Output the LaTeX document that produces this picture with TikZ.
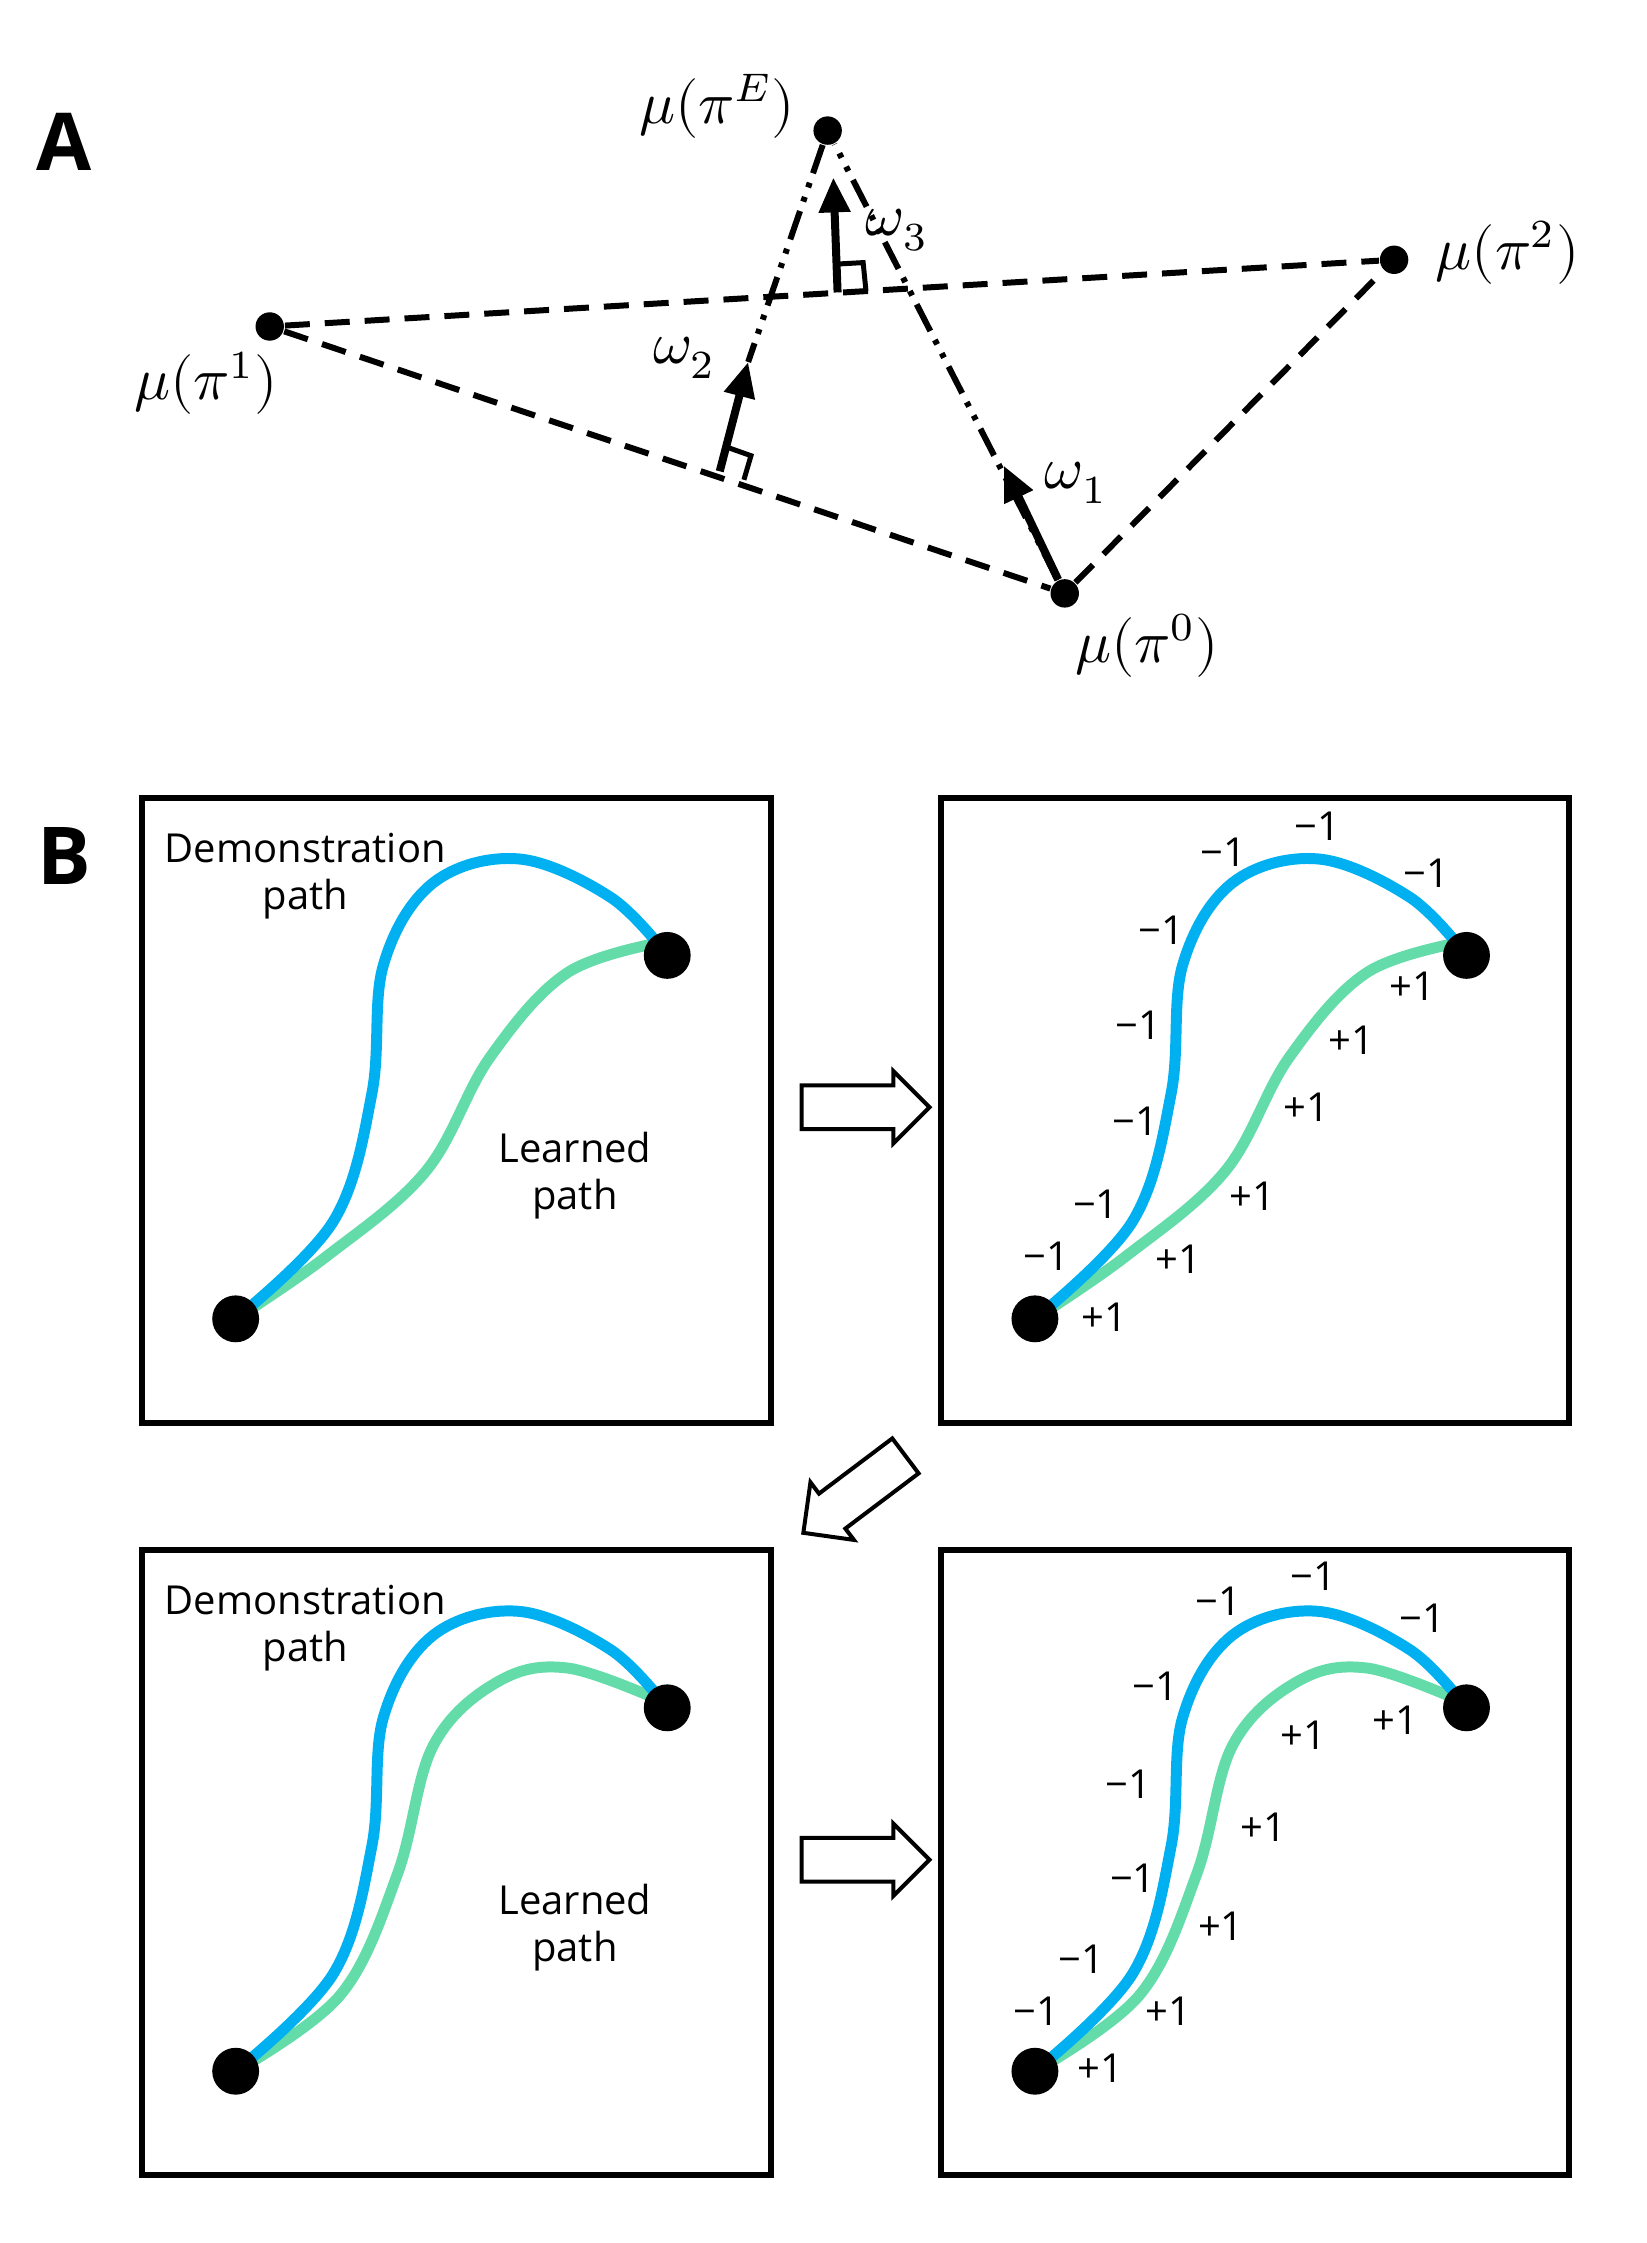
\documentclass[tikz,border=0pt]{standalone}
\usepackage{fontspec}
\setmainfont{Open Sans}
\usepackage{unicode-math}
\usetikzlibrary{arrows.meta,shapes.arrows}
\definecolor{demo}{RGB}{0,176,240}
\definecolor{learn}{RGB}{100,220,170}
\begin{document}
\begin{tikzpicture}[x=0.01cm,y=-0.01cm,
 dot/.style={circle,fill=black,inner sep=0pt,minimum size=0.2cm},
 bigdot/.style={circle,fill=black,inner sep=0pt,minimum size=0.33cm},
 dsh/.style={line width=1.2pt,dash pattern=on 5pt off 3pt},
 dd/.style={line width=1.2pt,dash pattern=on 6pt off 2pt on 1pt off 2pt on 1pt off 2pt},
 vec/.style={line width=1.6pt,-{Triangle[length=7pt,width=6pt]}},
 lab/.style={font=\fontsize{12}{14}\selectfont},
 sm/.style={font=\fontsize{8}{9.5}\selectfont,align=center},
 num/.style={font=\fontsize{8}{9}\selectfont},
 box/.style={draw,line width=1.2pt},
 barr/.style={draw,line width=0.8pt,single arrow,minimum height=0.9cm,inner xsep=0pt,inner ysep=0.14cm,single arrow head extend=0.1cm},
 dpath/.style={demo,line width=2.2pt},
 lpath/.style={learn,line width=2.2pt}]
\useasboundingbox (0,0) rectangle (1160,1580);
% Panel A
\node[font=\bfseries\fontsize{16}{18}\selectfont] (A) at (45,100) {A};
\node[dot] (pE) at (583,92) {};
\node[dot] (p2) at (982,183) {};
\node[dot] (p1) at (190,230) {};
\node[dot] (p0) at (750,418) {};
\draw[dsh] (p1) -- (p2);
\draw[dsh] (p1) -- (p0);
\draw[dsh] (p0) -- (p2);
\draw[dd] (p0) -- (pE);
\coordinate (c2) at (527,255);
\draw[dd] (pE) -- (c2);
\coordinate (f2) at (507,332);
\draw[vec] (f2) -- (c2);
\draw[line width=1pt] (512,315) -- (529,321) -- (524,338);
\coordinate (f3) at (590,206);
\coordinate (h3) at (587,125);
\draw[vec] (f3) -- (h3);
\draw[line width=1pt] (590,186) -- (608,185) -- (610,205);
\coordinate (h1) at (707,328);
\draw[vec] (p0) -- (h1);
\node[lab] (lE) at (505,75) {$\mu(\pi^E)$};
\node[lab] (l2) at (1062,178) {$\mu(\pi^2)$};
\node[lab] (l1) at (145,270) {$\mu(\pi^1)$};
\node[lab] (l0) at (808,455) {$\mu(\pi^0)$};
\node[lab] (w3) at (632,162) {$\omega_3$};
\node[lab] (w2) at (482,252) {$\omega_2$};
\node[lab] (w1) at (758,340) {$\omega_1$};
% Panel B
\node[font=\bfseries\fontsize{16}{18}\selectfont] (B) at (45,603) {B};
\node[box,minimum width=4.43cm,minimum height=4.4cm] (b1) at (321.5,782) {};
\node[box,minimum width=4.42cm,minimum height=4.4cm] (b2) at (884,782) {};
\node[box,minimum width=4.43cm,minimum height=4.4cm] (b3) at (321.5,1312) {};
\node[box,minimum width=4.42cm,minimum height=4.4cm] (b4) at (884,1312) {};
\node[barr] (ar1) at (602,780) {};
\node[barr] (ar2) at (602,1310) {};
\node[barr,rotate=-143] (ar3) at (608,1048) {};
% box 1
\draw[lpath] plot[smooth,tension=0.6] coordinates {(166,929) (230,885) (300,825) (345,745) (400,685) (470,663)};
\draw[dpath] plot[smooth,tension=0.6] coordinates {(166,929) (235,860) (262,770) (270,680) (305,622) (365,605) (430,632) (470,673)};
\node[bigdot] (s1) at (166,929) {};
\node[bigdot] (e1) at (470,673) {};
\node[sm] (t1) at (215,617) {Demonstration\\path};
\node[sm] (t2) at (405,828) {Learned\\path};
% box 2
\draw[lpath] plot[smooth,tension=0.6] coordinates {(729,929) (793,885) (863,825) (908,745) (963,685) (1033,663)};
\draw[dpath] plot[smooth,tension=0.6] coordinates {(729,929) (798,860) (825,770) (833,680) (868,622) (928,605) (993,632) (1033,673)};
\node[bigdot] (s2) at (729,929) {};
\node[bigdot] (e2) at (1033,673) {};
\foreach \x/\y [count=\i] in {737/885,772/848,800/790,802/722,818/655,862/600,928/582,1005/615}
  \node[num] (m2\i) at (\x,\y) {−1};
\foreach \x/\y [count=\i] in {778/928,830/887,882/843,920/780,952/733,995/695}
  \node[num] (p2\i) at (\x,\y) {+1};
% box 3
\draw[lpath] plot[smooth,tension=0.6] coordinates {(166,1459) (240,1405) (280,1320) (305,1230) (350,1185) (400,1175) (470,1200)};
\draw[dpath] plot[smooth,tension=0.6] coordinates {(166,1459) (235,1390) (262,1300) (270,1210) (305,1152) (365,1135) (430,1162) (470,1203)};
\node[bigdot] (s3) at (166,1459) {};
\node[bigdot] (e3) at (470,1203) {};
\node[sm] (t3) at (215,1147) {Demonstration\\path};
\node[sm] (t4) at (405,1358) {Learned\\path};
% box 4
\draw[lpath] plot[smooth,tension=0.6] coordinates {(729,1459) (803,1405) (843,1320) (868,1230) (913,1185) (963,1175) (1033,1200)};
\draw[dpath] plot[smooth,tension=0.6] coordinates {(729,1459) (798,1390) (825,1300) (833,1210) (868,1152) (928,1135) (993,1162) (1033,1203)};
\node[bigdot] (s4) at (729,1459) {};
\node[bigdot] (e4) at (1033,1203) {};
\foreach \x/\y [count=\i] in {730/1417,762/1380,798/1323,795/1257,814/1188,858/1128,925/1110,1002/1140}
  \node[num] (m4\i) at (\x,\y) {−1};
\foreach \x/\y [count=\i] in {775/1457,823/1417,860/1357,890/1287,918/1222,983/1212}
  \node[num] (p4\i) at (\x,\y) {+1};
\end{tikzpicture}
\end{document}
